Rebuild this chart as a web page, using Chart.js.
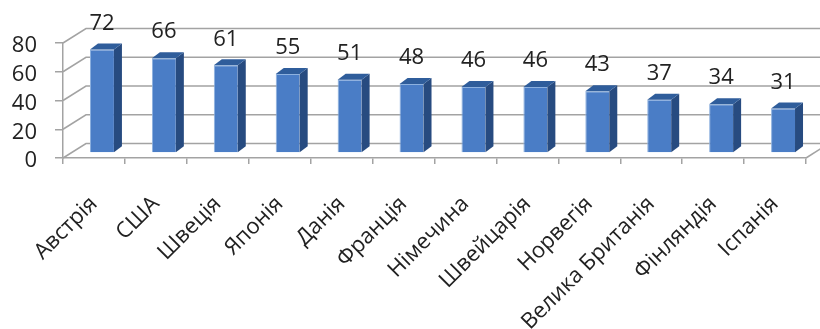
<!DOCTYPE html>
<html>
<head>
<meta charset="utf-8">
<script src="https://cdn.jsdelivr.net/npm/chart.js@4.4.0/dist/chart.umd.min.js"></script>
<style>
  html, body { margin: 0; padding: 0; background: #fff; }
  canvas { display: block; }
</style>
</head>
<body>
<canvas id="chart" width="820" height="329"></canvas>
<script>
// Categories and values
const countries = ['Австрія', 'США', 'Швеція', 'Японія', 'Данія', 'Франція',
                   'Німечина', 'Швейцарія', 'Норвегія', 'Велика Британія', 'Фінляндія', 'Іспанія'];
const values = [72, 66, 61, 55, 51, 48, 46, 46, 43, 37, 34, 31];
const yTicks = [0, 20, 40, 60, 80];

// 3D geometry (pixels)
const WALL = { dx: 23, dy: -14.5 };   // front axis plane -> back wall
const PLANE = { dx: 8, dy: -5 };      // front axis plane -> bar front faces
const DEPTH = { dx: 8, dy: -6 };      // bar thickness

const FONT = '"Open Sans", sans-serif';
const TEXT = '#222222';
const LINE = '#a3a3a3';

const box3d = {
  id: 'box3d',
  beforeDatasetsDraw(chart) {
    const { ctx, chartArea: a, scales: { y } } = chart;
    ctx.save();
    ctx.strokeStyle = LINE;
    ctx.lineWidth = 1.5;
    // side wall diagonals + back wall gridlines
    yTicks.forEach(v => {
      const py = y.getPixelForValue(v);
      ctx.beginPath();
      ctx.moveTo(a.left, py);
      ctx.lineTo(a.left + WALL.dx, py + WALL.dy);
      ctx.lineTo(a.right + WALL.dx, py + WALL.dy);
      ctx.stroke();
    });
    // floor right edge
    ctx.beginPath();
    ctx.moveTo(a.right, a.bottom);
    ctx.lineTo(a.right + WALL.dx, a.bottom + WALL.dy);
    ctx.stroke();
    ctx.restore();

    // bars are drawn on a plane set back from the axis
    ctx.save();
    ctx.translate(PLANE.dx, PLANE.dy);
  },
  afterDatasetsDraw(chart) {
    const { ctx } = chart;
    const meta = chart.getDatasetMeta(0);
    meta.data.forEach((bar, i) => {
      const l = bar.x - bar.width / 2, r = bar.x + bar.width / 2;
      const t = bar.y, b = bar.base;
      // side face
      ctx.fillStyle = '#274b80';
      ctx.beginPath();
      ctx.moveTo(r, t);
      ctx.lineTo(r + DEPTH.dx, t + DEPTH.dy);
      ctx.lineTo(r + DEPTH.dx, b + DEPTH.dy);
      ctx.lineTo(r, b);
      ctx.closePath();
      ctx.fill();
      // top face
      ctx.fillStyle = '#2f5d9b';
      ctx.beginPath();
      ctx.moveTo(l, t);
      ctx.lineTo(l + DEPTH.dx, t + DEPTH.dy);
      ctx.lineTo(r + DEPTH.dx, t + DEPTH.dy);
      ctx.lineTo(r, t);
      ctx.closePath();
      ctx.fill();
      // value label
      ctx.fillStyle = TEXT;
      ctx.font = '22px ' + FONT;
      ctx.textAlign = 'center';
      ctx.textBaseline = 'middle';
      ctx.fillText(String(values[i]), bar.x, t - 26);
    });
    ctx.restore();
  }
};

const ctx = document.getElementById('chart').getContext('2d');

new Chart(ctx, {
  type: 'bar',
  data: {
    labels: countries,
    datasets: [{
      data: values,
      backgroundColor: '#4a7dc6',
      borderColor: '#8db1df',
      borderWidth: { left: 1, top: 1, right: 0, bottom: 0 },
      borderSkipped: false,
      barPercentage: 0.43,
      categoryPercentage: 0.9
    }]
  },
  options: {
    responsive: false,
    devicePixelRatio: 1,
    animation: false,
    layout: { padding: { top: 43, right: 14, left: 0, bottom: 0 } },
    plugins: { legend: { display: false }, tooltip: { enabled: false } },
    scales: {
      x: {
        offset: true,
        grid: { display: true, drawOnChartArea: false, offset: true, tickLength: 6, color: LINE, lineWidth: 1.5 },
        border: { display: true, color: LINE, width: 1.5 },
        ticks: {
          autoSkip: false, minRotation: 45, maxRotation: 45, padding: 27,
          color: TEXT, font: { family: FONT, size: 22 }
        },
        afterFit(scale) {
          scale.height = 171;
          scale.paddingLeft = 0; scale.paddingRight = 0;
        }
      },
      y: {
        min: 0, max: 80,
        afterBuildTicks(scale) { scale.ticks = yTicks.map(v => ({ value: v })); },
        grid: { display: true, drawOnChartArea: false, tickLength: 8, color: LINE, lineWidth: 1.5 },
        border: { display: true, color: LINE, width: 1.5 },
        ticks: { autoSkip: false, padding: 18, labelOffset: 3, color: TEXT, font: { family: FONT, size: 22 } },
        afterFit(scale) {
          scale.width = 63;
          scale.paddingTop = 0; scale.paddingBottom = 0;
        }
      }
    }
  },
  plugins: [box3d]
});
</script>
</body>
</html>
